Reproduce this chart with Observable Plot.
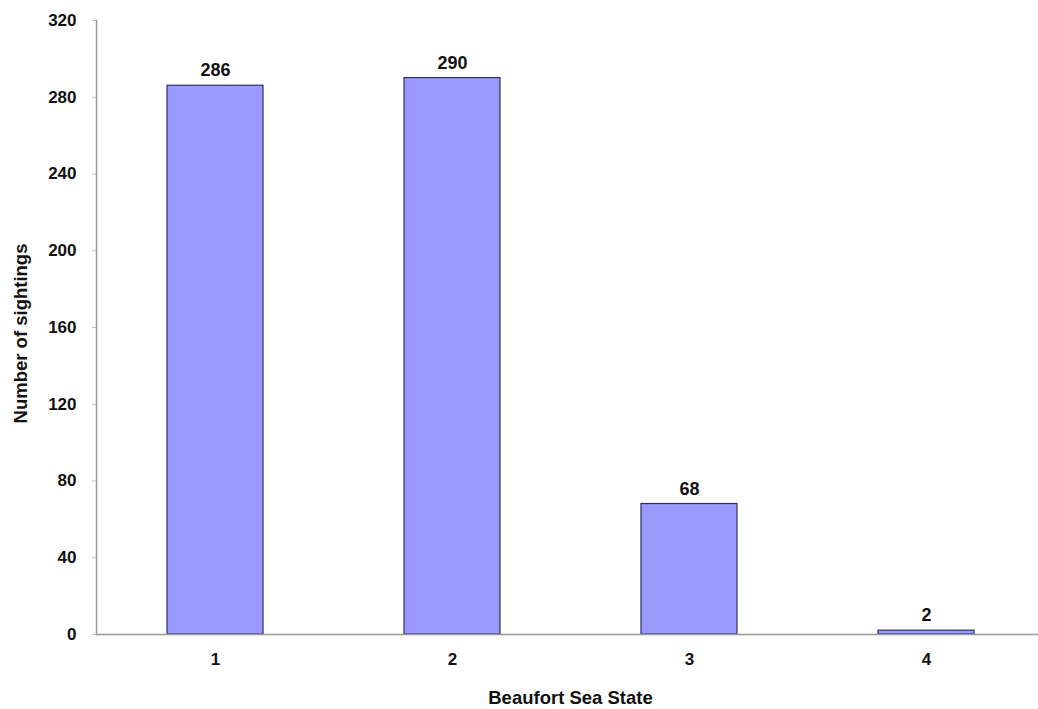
<!DOCTYPE html>
<html>
<head>
<meta charset="utf-8">
<script src="https://cdn.jsdelivr.net/npm/d3@7"></script>
<script src="https://cdn.jsdelivr.net/npm/@observablehq/plot@0.6"></script>
<style>
  html, body { margin: 0; padding: 0; background: #fff; }
  #chart svg { display: block; }
</style>
</head>
<body>
<div id="chart"></div>
<script>
const seaStates = ["1", "2", "3", "4"];
const sightings = [286, 290, 68, 2];
const yTicks = [0, 40, 80, 120, 160, 200, 240, 280, 320];

const data = seaStates.map((s, i) => ({state: s, count: sightings[i]}));

const chart = Plot.plot({
  width: 1038,
  height: 709,
  marginTop: 20,
  marginBottom: 75,
  marginLeft: 96,
  marginRight: 0,
  style: {fontFamily: "'Liberation Sans', Arial, sans-serif", fontSize: "17px", fontWeight: "bold", color: "#111", background: "#fff"},
  x: {domain: seaStates, range: [96, 1044], paddingInner: 0.595, paddingOuter: 0.2975, label: null},
  y: {domain: [0, 320], ticks: yTicks, label: null},
  marks: [
    Plot.barY(data, {x: "state", y: "count", fill: "#9999ff", stroke: "#2e2e66", strokeWidth: 1.2}),
    Plot.text(data, {x: "state", y: "count", text: d => String(d.count), lineAnchor: "bottom", dy: -9.5, fontWeight: "bold", fontSize: 18, fill: "#111"}),
    Plot.ruleY([0], {stroke: "#999", strokeWidth: 1.5}),
    Plot.frame({anchor: "left", stroke: "#999", strokeWidth: 1.5}),
    Plot.axisY({ticks: yTicks, tickSize: 4, tickPadding: 16, stroke: "#bbb", label: null, fontWeight: "bold", fontSize: 17}),
    Plot.axisX({tickSize: 0, tickPadding: 18, label: null, fontWeight: "bold", fontSize: 17}),
    Plot.text(["Number of sightings"], {frameAnchor: "left", textAnchor: "middle", dx: -75, dy: 6, rotate: -90, fontWeight: "bold", fontSize: 18.5, fill: "#111"}),
    Plot.text(["Beaufort Sea State"], {frameAnchor: "bottom", textAnchor: "middle", dy: 69, dx: 3, fontWeight: "bold", fontSize: 18.5, fill: "#111"})
  ]
});
document.getElementById("chart").appendChild(chart);
</script>
</body>
</html>
